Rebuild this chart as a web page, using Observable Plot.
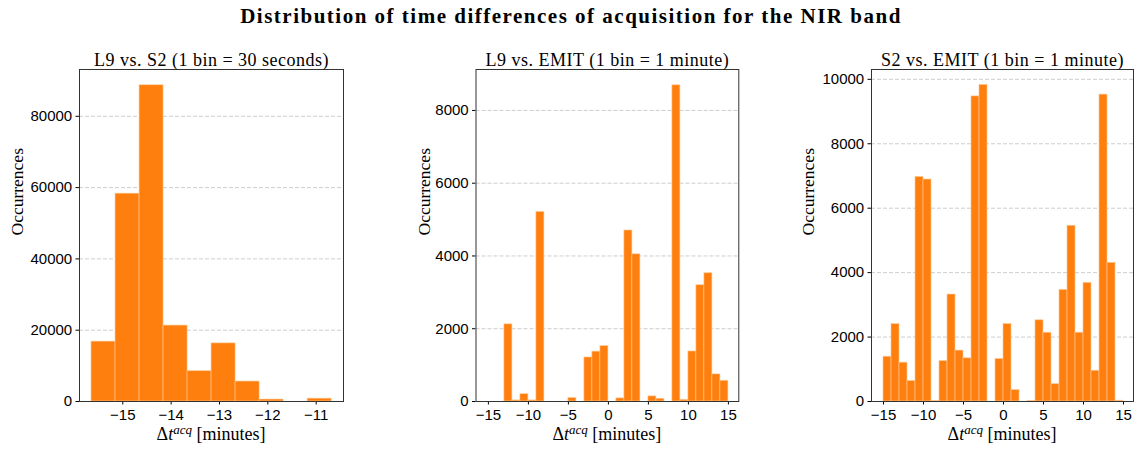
<!DOCTYPE html>
<html><head><meta charset="utf-8">
<script src="https://cdn.jsdelivr.net/npm/d3@7"></script>
<script src="https://cdn.jsdelivr.net/npm/@observablehq/plot@0.6"></script>
<style>
body{margin:0;background:#fff;}
#wrap{position:relative;width:1134px;height:449px;overflow:hidden;background:#fff;}
#title{position:absolute;left:0;width:1142px;top:5px;text-align:center;font-family:"Liberation Serif",serif;font-weight:bold;font-size:21px;letter-spacing:1.5px;line-height:22px;color:#000;}
.panel{position:absolute;top:29px;}
</style></head><body>
<div id="wrap"><div id="title">Distribution of time differences of acquisition for the NIR band</div></div>
<script>
// ---- data ----
const l9s2Edges  = [-15.647, -15.150, -14.653, -14.157, -13.660, -13.164, -12.667, -12.170, -11.674, -11.177, -10.680];
const l9s2Counts = [16800, 58300, 88700, 21300, 8500, 16300, 5600, 550, 0, 800];

const l9emitEdges  = [-13,-12,-11,-10,-9,-8,-7,-6,-5,-4,-3,-2,-1,0,1,2,3,4,5,6,7,8,9,10,11,12,13,14,15];
const l9emitCounts = [2120, 30, 200, 30, 5210, 0, 0, 0, 95, 0, 1210, 1370, 1520, 0, 85, 4700, 4045, 0, 140, 75, 0, 8690, 45, 1375, 3195, 3525, 745, 570];

const s2emitEdges  = [-15,-14,-13,-12,-11,-10,-9,-8,-7,-6,-5,-4,-3,-2,-1,0,1,2,3,4,5,6,7,8,9,10,11,12,13,14,15];
const s2emitCounts = [1390, 2400, 1205, 635, 6970, 6890, 20, 1255, 3320, 1580, 1340, 9470, 9825, 0, 1320, 2405, 355, 0, 20, 2520, 2135, 540, 3465, 5455, 2135, 3685, 955, 9525, 4305, 25];

const panelTitles = ["L9 vs. S2 (1 bin = 30 seconds)", "L9 vs. EMIT (1 bin = 1 minute)", "S2 vs. EMIT (1 bin = 1 minute)"];
const xTicksA = [-15, -14, -13, -12, -11];
const xTicksB = [-15, -10, -5, 0, 5, 10, 15];
const yTicksA = [0, 20000, 40000, 60000, 80000];
const yTicksB = [0, 2000, 4000, 6000, 8000];
const yTicksC = [0, 2000, 4000, 6000, 8000, 10000];
const yLabel = "Occurrences";

function toBins(edges, counts) {
  return counts.map((c, i) => ({x1: edges[i], x2: edges[i + 1], y: c}));
}
const fmt = d => d < 0 ? "\u2212" + Math.abs(d) : String(d);

function panel(o) {
  const H = 420, mt = 40, mb = 48;
  const chart = Plot.plot({
    width: o.width, height: H,
    marginLeft: o.ml, marginRight: o.mr, marginTop: mt, marginBottom: mb,
    style: {fontFamily: "Liberation Sans, sans-serif", fontSize: "15px", color: "#000", background: "transparent", overflow: "visible"},
    x: {domain: o.xDomain, ticks: o.xTicks, tickFormat: fmt, label: null, tickSize: 3.5, tickPadding: 4},
    y: {domain: o.yDomain, ticks: o.yTicks, tickFormat: fmt, label: null, tickSize: 3.5, tickPadding: 3.8},
    marks: [
      Plot.gridY(o.yTicks, {stroke: "#b0b0b0", strokeOpacity: 0.8, strokeDasharray: "4,2", strokeWidth: 0.8}),
      Plot.rectY(o.bins, {x1: "x1", x2: "x2", y: "y", fill: "#ff7f0e", stroke: "#ffc894", strokeWidth: 0.6}),
      Plot.frame({stroke: "#333", strokeWidth: 1}),
      Plot.text([o.title], {frameAnchor: "top", lineAnchor: "bottom", dy: -4, fontSize: 18, fontFamily: "Liberation Serif, serif", fill: "#000"}),
      Plot.text([yLabel], {frameAnchor: "left", dx: -o.ylOff, rotate: -90, fontSize: 17.5, fontFamily: "Liberation Serif, serif", fill: "#000"})
    ]
  });
  const svg = d3.select(chart);
  svg.selectAll("text").filter(function() { return this.textContent === o.title; }).attr("letter-spacing", "0.5");
  const cx = o.ml + (o.width - o.ml - o.mr) / 2;
  const t = svg.append("text").attr("x", cx).attr("y", 411).attr("text-anchor", "middle")
    .attr("font-family", "Liberation Serif, serif").attr("font-size", 18).attr("fill", "#000");
  t.append("tspan").text("\u0394");
  t.append("tspan").attr("font-style", "italic").text("t");
  t.append("tspan").attr("font-style", "italic").attr("font-size", 13).attr("dy", -6).text("acq");
  t.append("tspan").attr("dy", 6).text("\u00a0[minutes]");
  const div = document.createElement("div");
  div.className = "panel";
  div.style.left = o.left + "px";
  div.appendChild(chart);
  document.getElementById("wrap").appendChild(div);
}

panel({left: 0, width: 360, ml: 79, mr: 17, xDomain: [-15.895, -10.435], yDomain: [0, 93130],
  xTicks: xTicksA, yTicks: yTicksA, bins: toBins(l9s2Edges, l9s2Counts), title: panelTitles[0], ylOff: 62});
panel({left: 380, width: 380, ml: 95.5, mr: 21.7, xDomain: [-16.55, 16.3], yDomain: [0, 9125],
  xTicks: xTicksB, yTicks: yTicksB, bins: toBins(l9emitEdges, l9emitCounts), title: panelTitles[1], ylOff: 52});
panel({left: 760, width: 374, ml: 111, mr: 1, xDomain: [-16.5, 16.25], yDomain: [0, 10305],
  xTicks: xTicksB, yTicks: yTicksC, bins: toBins(s2emitEdges, s2emitCounts), title: panelTitles[2], ylOff: 63});
</script>
</body></html>
